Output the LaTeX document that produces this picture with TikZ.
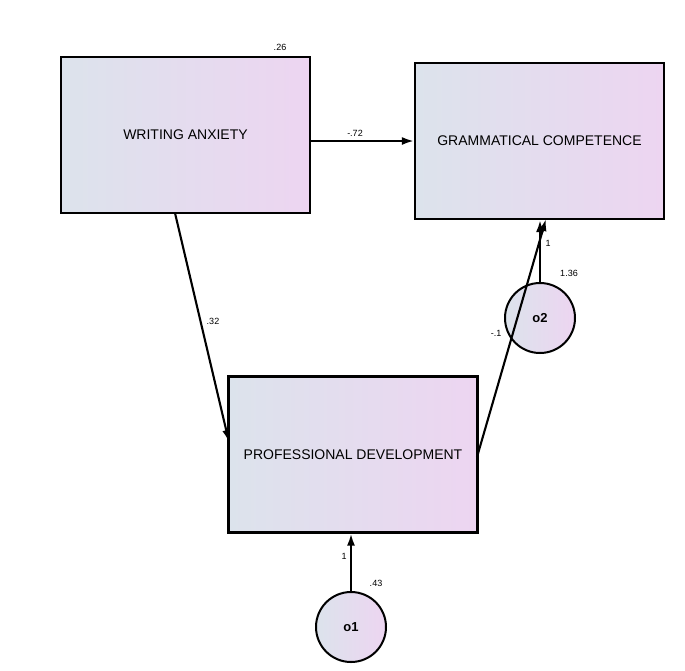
\documentclass[tikz,border=0pt]{standalone}
\usepackage{fontspec}
\setmainfont{Liberation Sans}
\usetikzlibrary{arrows.meta}
\begin{document}
\begin{tikzpicture}[x=1pt,y=-1pt,
  box/.style={draw=black, line width=2.2pt, shading=axis, left color=boxL, right color=boxR, shading angle=90, minimum width=249pt, minimum height=156pt, inner sep=0pt, font=\fontsize{14}{16}\selectfont},
  err/.style={circle, draw=black, line width=2pt, left color=boxL, right color=boxR, minimum size=70pt, inner sep=0pt, font=\fontsize{13}{15}\selectfont\bfseries},
  arr/.style={line width=2.1pt, -{Latex[length=12pt,width=8pt]}},
  lab/.style={font=\fontsize{9}{11}\selectfont, inner sep=1pt}]
\definecolor{boxL}{HTML}{DCE3EC}
\definecolor{boxR}{HTML}{EDD5F1}
\useasboundingbox (0,0) rectangle (685,670);
\node[box] (wa) at (185.5,135) {WRITING ANXIETY};
\node[box] (gc) at (539.5,141) {GRAMMATICAL COMPETENCE};
\node[box] (pd) at (353,454.5) {PROFESSIONAL DEVELOPMENT};
\node[err] (o2) at (540,318) {o2};
\node[err] (o1) at (351,627) {o1};
\coordinate (waS) at (175,213);
\coordinate (pdW) at (229,442);
\coordinate (pdE) at (477,457);
\coordinate (gcS1) at (546,219);
\draw[arr] (wa.east |- 0,141) -- (gc.west |- 0,141);
\draw[arr] (waS) -- (pdW);
\draw[arr] (pdE) -- (gcS1);
\draw[arr] (o2.north) -- (o2.north |- gc.south);
\draw[arr] (o1.north) -- (o1.north |- pd.south);
\node[lab] (l26) at (280,47) {.26};
\node[lab] (l72) at (355,133) {-.72};
\node[lab] (l32) at (213,321) {.32};
\node[lab] (l11) at (496,333) {-.1};
\node[lab] (l1a) at (548,243) {1};
\node[lab] (l136) at (569,273) {1.36};
\node[lab] (l43) at (376,583) {.43};
\node[lab] (l1b) at (344,556) {1};
\end{tikzpicture}
\end{document}
